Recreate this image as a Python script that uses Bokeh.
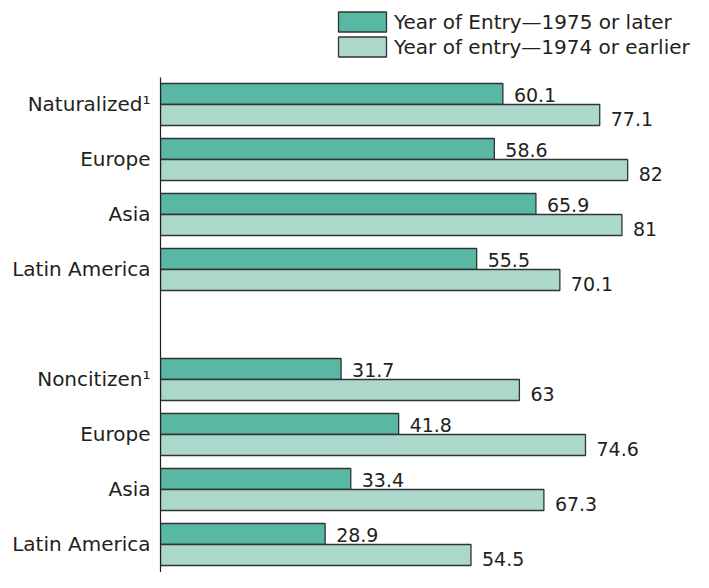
from bokeh.plotting import figure
from bokeh.models import Range1d, FixedTicker, ColumnDataSource, Legend, LegendItem
from bokeh.embed import file_html
from bokeh.resources import INLINE
from bokeh.core.properties import value

# ---- data ----
categories = ["Naturalized\u00b9", "Europe", "Asia", "Latin America",
              "Noncitizen\u00b9", "Europe", "Asia", "Latin America"]
group = [0, 0, 0, 0, 1, 1, 1, 1]
later = [60.1, 58.6, 65.9, 55.5, 31.7, 41.8, 33.4, 28.9]
earlier = [77.1, 82, 81, 70.1, 63, 74.6, 67.3, 54.5]
series_names = ["Year of Entry\u20141975 or later", "Year of entry\u20141974 or earlier"]

# ---- styling ----
FONT = "DejaVu Sans"
TXT = "#231f20"
DARK = "#58b8a3"
LIGHT = "#acd8cc"
EDGE = "#333333"
BAR_H = 0.382
OFF = BAR_H / 2
Y_TOP, Y_BOTTOM, AXIS_TOP = -1.8909, 8.5091, -0.4909

slots = [i + g for i, g in enumerate(group)]

src = ColumnDataSource(dict(
    y_later=[s - OFF for s in slots],
    y_earlier=[s + OFF for s in slots],
    later=later,
    earlier=earlier,
    later_lbl=[f"{v:g}" for v in later],
    earlier_lbl=[f"{v:g}" for v in earlier],
))

p = figure(width=693, height=572, output_backend="svg", toolbar_location=None,
           x_range=Range1d(0, 93.56), y_range=Range1d(Y_BOTTOM, Y_TOP),
           min_border_left=160, min_border_right=0, min_border_top=0,
           min_border_bottom=0)
p.xaxis.visible = False
p.grid.visible = False
p.outline_line_color = None
p.background_fill_color = None
p.border_fill_color = "white"

r1 = p.hbar(y="y_later", right="later", left=0, height=BAR_H, source=src,
            fill_color=DARK, line_color=EDGE, line_width=1.3)
r2 = p.hbar(y="y_earlier", right="earlier", left=0, height=BAR_H, source=src,
            fill_color=LIGHT, line_color=EDGE, line_width=1.3)

p.text(x="later", y="y_later", text="later_lbl", source=src,
       x_offset=11, y_offset=1.5, text_baseline="middle", text_align="left",
       text_font=value(FONT), text_font_size="19px", text_color=TXT)
p.text(x="earlier", y="y_earlier", text="earlier_lbl", source=src,
       x_offset=11, y_offset=4, text_baseline="middle", text_align="left",
       text_font=value(FONT), text_font_size="19px", text_color=TXT)

ax = p.yaxis[0]
ax.ticker = FixedTicker(ticks=slots)
ax.major_label_overrides = {s: c for s, c in zip(slots, categories)}
ax.bounds = (AXIS_TOP, Y_BOTTOM)
ax.major_tick_line_color = None
ax.minor_tick_line_color = None
ax.major_tick_out = 0
ax.major_tick_in = 0
ax.minor_tick_out = 0
ax.major_label_standoff = 10
ax.axis_line_color = TXT
ax.axis_line_width = 1.2
ax.major_label_text_font = FONT
ax.major_label_text_font_size = "20px"
ax.major_label_text_color = TXT

legend = Legend(items=[LegendItem(label=series_names[0], renderers=[r1]),
                       LegendItem(label=series_names[1], renderers=[r2])],
                location=(172, 513), orientation="vertical",
                glyph_width=60, glyph_height=25, spacing=0, padding=0, margin=0,
                label_standoff=2, border_line_color=None,
                background_fill_alpha=0,
                label_text_font=FONT, label_text_font_size="20px",
                label_text_color=TXT)
p.add_layout(legend)

open("out.html", "w").write(file_html(p, INLINE))
